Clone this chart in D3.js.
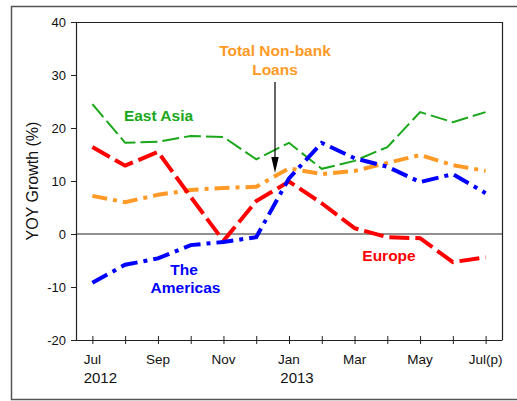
<!DOCTYPE html>
<html><head><meta charset="utf-8">
<script src="https://cdn.jsdelivr.net/npm/d3@7"></script>
<style>body{margin:0;background:#fff}svg{display:block;font-family:"Liberation Sans",Arial,Helvetica,sans-serif}</style>
</head><body>
<svg id="c" width="517" height="401"></svg>
<script>
const months = ["Jul","Aug","Sep","Oct","Nov","Dec","Jan","Feb","Mar","Apr","May","Jun","Jul(p)"];
const monthLabels = ["Jul","","Sep","","Nov","","Jan","","Mar","","May","","Jul(p)"];
const yearLabels = [{i:0,t:"2012"},{i:6,t:"2013"}];
const yTicks = [-20,-10,0,10,20,30,40];
const eastAsia = [24.5,17.2,17.4,18.5,18.3,14.1,17.2,12.3,13.8,16.4,23.0,21.1,23.0];
const nonBank  = [7.2,6.0,7.4,8.3,8.7,8.9,12.4,11.3,11.9,13.4,14.9,13.0,11.9];
const americas = [-9.2,-5.8,-4.6,-2.1,-1.5,-0.6,10.5,17.2,14.3,12.7,9.8,11.3,7.7];
const europe   = [16.4,12.9,15.5,7.0,-1.3,6.2,9.9,5.8,1.1,-0.6,-0.8,-5.3,-4.4];

const svg = d3.select("#c");
const L=76, R=502, T=22, B=340;
const x = d3.scaleLinear().domain([-0.5,12.5]).range([L,R]);
const y = d3.scaleLinear().domain([-20,40]).range([B,T]);

// outer frame
svg.append("rect").attr("x",11.5).attr("y",6.5).attr("width",530).attr("height",393)
  .attr("fill","none").attr("stroke","#555").attr("stroke-width",1.5);

// plot box top/right
svg.append("path").attr("d",`M${L},${T+0.5}H${R+0.5}V${B}`).attr("fill","none").attr("stroke","#222").attr("stroke-width",1.2);

// zero line
svg.append("line").attr("x1",L).attr("x2",R).attr("y1",y(0)).attr("y2",y(0)).attr("stroke","#222").attr("stroke-width",1);

// y axis
const ya = svg.append("g").attr("transform",`translate(${L},0)`)
  .call(d3.axisLeft(y).tickValues(yTicks).tickSize(5).tickPadding(5).tickSizeOuter(0).tickFormat(d=>String(d)));
ya.select(".domain").attr("stroke","#222").attr("stroke-width",1.2);
ya.selectAll(".tick line").attr("stroke","#222");
ya.selectAll("text").attr("font-size",13).attr("fill","#111").attr("font-family","Liberation Sans, Arial, sans-serif");

// x axis with ticks crossing
const xa = svg.append("g").attr("transform",`translate(0,${B})`)
  .call(d3.axisBottom(x).tickValues(d3.range(13)).tickSize(0).tickSizeOuter(0).tickFormat(""));
xa.select(".domain").attr("stroke","#222").attr("stroke-width",1.2).attr("d",`M${L},0.5H${R+0.5}`);
xa.selectAll(".tick line").attr("y1",-4).attr("y2",4).attr("stroke","#222");
svg.append("g").selectAll("text").data(months).join("text")
  .attr("x",(d,i)=>x(i)).attr("y",364).attr("text-anchor","middle")
  .attr("font-size",13.5).attr("fill","#111").text((d,i)=>monthLabels[i]);
svg.append("g").selectAll("text").data(yearLabels).join("text")
  .attr("x",d=>x(d.i)+8).attr("y",383).attr("text-anchor","middle")
  .attr("font-size",15).attr("fill","#111").text(d=>d.t);

// y label
svg.append("text").attr("transform","translate(38,181) rotate(-90)").attr("text-anchor","middle")
  .attr("font-size",16).attr("fill","#111").text("YOY Growth (%)");

const line = d3.line().x((d,i)=>x(i)).y(d=>y(d));
function series(data,color,width,dash){
  svg.append("path").datum(data).attr("d",line).attr("fill","none")
    .attr("stroke",color).attr("stroke-width",width).attr("stroke-dasharray",dash)
    .attr("stroke-linejoin","miter");
}
series(eastAsia,"#1aa81a",2,"17,5");
series(nonBank,"#ff9a26",4,"15,6,4,6");
series(europe,"#ff0000",4,"20,6");
series(americas,"#0000ff",4,"17,6,4,6");

// labels
function label(t,xx,yy,c){
  svg.append("text").attr("x",xx).attr("y",yy).attr("text-anchor","middle")
    .attr("font-size",15.5).attr("font-weight","bold").attr("fill",c).text(t);
}
label("East Asia",158.5,120.5,"#1aa81a");
label("Total Non-bank",275,55.5,"#ff9a26");
label("Loans",275,75,"#ff9a26");
label("The",184,275,"#0000ff");
label("Americas",185.5,292.7,"#0000ff");
label("Europe",389,261,"#ff0000");

// arrow
svg.append("line").attr("x1",275).attr("x2",275).attr("y1",82).attr("y2",160).attr("stroke","#000").attr("stroke-width",1.2);
svg.append("path").attr("d","M271.3,157L278.7,157L275,173Z").attr("fill","#000");
</script>
</body></html>
